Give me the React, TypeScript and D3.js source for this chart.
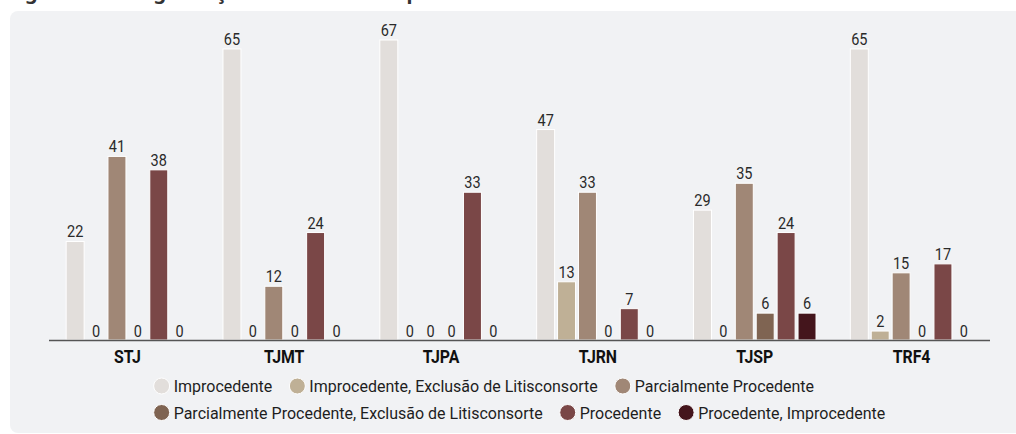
import { useEffect, useRef } from "react";
import * as d3 from "d3";

const width = 1016;
const height = 434;

const tribunais = ["STJ", "TJMT", "TJPA", "TJRN", "TJSP", "TRF4"];
const resultados = [
    "Improcedente",
    "Improcedente, Exclusão de Litisconsorte",
    "Parcialmente Procedente",
    "Parcialmente Procedente, Exclusão de Litisconsorte",
    "Procedente",
    "Procedente, Improcedente",
];
const cores = ["#e2dedb", "#bfb096", "#a08776", "#7f6452", "#7a4747", "#44151c"];

// valores por resultado, na ordem dos tribunais
const improcedente = [22, 65, 67, 47, 29, 65];
const improcedenteExclusao = [0, 0, 0, 13, 0, 2];
const parcialmente = [41, 12, 0, 33, 35, 15];
const parcialmenteExclusao = [0, 0, 0, 0, 6, 0];
const procedente = [38, 24, 33, 7, 24, 17];
const procedenteImprocedente = [0, 0, 0, 0, 6, 0];

const series = [
    improcedente,
    improcedenteExclusao,
    parcialmente,
    parcialmenteExclusao,
    procedente,
    procedenteImprocedente,
];

const legendRows = [
    [0, 1, 2],
    [3, 4, 5],
];

// fonte condensada simulada: Roboto com escala horizontal
const FONT = "Roboto, 'Noto Sans', sans-serif";
const LEGEND_SX = 0.97;
const VALUE_SX = 0.88;
const CAT_SX = 0.88;

function SText({ x, y, sx, anchor = "start", size, weight = "normal", fill, children }: any) {
    return (
        <text
            transform={`translate(${x},${y}) scale(${sx},1)`}
            textAnchor={anchor}
            fontFamily={FONT}
            fontSize={size}
            fontWeight={weight}
            fill={fill}
        >
            {children}
        </text>
    );
}

export default function App() {
    const legendRef = useRef<SVGGElement>(null);

    const margin = { left: 49, right: 26, baseline: 340, top: 40 };

    const x0 = d3
        .scaleBand()
        .domain(tribunais)
        .range([margin.left, width - margin.right])
        .paddingInner(0.2)
        .paddingOuter(0.1);
    const x1 = d3
        .scaleBand()
        .domain(resultados)
        .range([0, x0.bandwidth()])
        .paddingInner(0.14)
        .paddingOuter(0.07);
    const y = d3.scaleLinear().domain([0, 67]).range([margin.baseline, margin.top]);

    const axisX0 = margin.left;
    const axisX1 = width - margin.right;

    // legenda: mede os textos e centraliza o bloco
    useEffect(() => {
        const g = d3.select(legendRef.current);
        g.selectAll("*").remove();
        const r = 8;
        const gap = 17;
        const rowsW: number[] = [];
        const rowsG = legendRows.map((row) => {
            const rg = g.append("g");
            let cx = 0;
            row.forEach((idx) => {
                rg.append("circle")
                    .attr("cx", cx + r)
                    .attr("cy", 0)
                    .attr("r", r)
                    .attr("fill", cores[idx])
                    .attr("stroke", "#fff")
                    .attr("stroke-width", 1);
                const tx = cx + 2 * r + 4;
                const t = rg
                    .append("text")
                    .attr("transform", `translate(${tx},6) scale(${LEGEND_SX},1)`)
                    .attr("font-family", FONT)
                    .attr("font-size", 16.5)
                    .attr("fill", "#1e1e1e")
                    .text(resultados[idx]);
                const w = (t.node() as SVGTextElement).getComputedTextLength() * LEGEND_SX;
                cx = tx + w + gap;
            });
            rowsW.push(cx - gap);
            return rg;
        });
        const blockW = d3.max(rowsW) || 0;
        const startX = (axisX0 + axisX1) / 2 - blockW / 2;
        rowsG.forEach((rg, ri) => {
            rg.attr("transform", `translate(${startX}, ${386 + ri * 26.5})`);
        });
    }, []);

    return (
        <svg
            width={width}
            height={height}
            style={{ position: "absolute", left: 0, top: 0 }}
        >
            <rect x={0} y={0} width={width} height={height} fill="#fff" />
            <text
                x={8}
                y={-1}
                fontFamily="'Noto Sans', sans-serif"
                fontWeight="bold"
                fontSize={20}
                fill="#333"
            >
                Figura 4 – Categorização dos resultados por tribunal
            </text>
            <rect x={10} y={11} width={width + 20} height={422} rx={8} fill="#f1f2f4" />

            {tribunais.map((t, ti) => (
                <g key={t} transform={`translate(${x0(t)},0)`}>
                    {series.map((s, si) => {
                        const v = s[ti];
                        const bx = x1(resultados[si]) as number;
                        return (
                            <g key={si}>
                                {v > 0 && (
                                    <rect
                                        x={bx}
                                        y={y(v)}
                                        width={x1.bandwidth()}
                                        height={y(0) - y(v)}
                                        fill={cores[si]}
                                        stroke="#fff"
                                        strokeWidth={1}
                                    />
                                )}
                                <SText
                                    x={bx + x1.bandwidth() / 2}
                                    y={y(v) - (v > 0 ? 4 : 3)}
                                    sx={VALUE_SX}
                                    anchor="middle"
                                    size={16.5}
                                    fill="#2a2a2a"
                                >
                                    {v}
                                </SText>
                            </g>
                        );
                    })}
                    <SText
                        x={x0.bandwidth() / 2}
                        y={363}
                        sx={CAT_SX}
                        anchor="middle"
                        size={18}
                        weight="bold"
                        fill="#111"
                    >
                        {t}
                    </SText>
                </g>
            ))}

            <line
                x1={axisX0}
                x2={axisX1}
                y1={margin.baseline + 0.5}
                y2={margin.baseline + 0.5}
                stroke="#555"
                strokeWidth={1.5}
            />

            <g ref={legendRef} />
        </svg>
    );
}
